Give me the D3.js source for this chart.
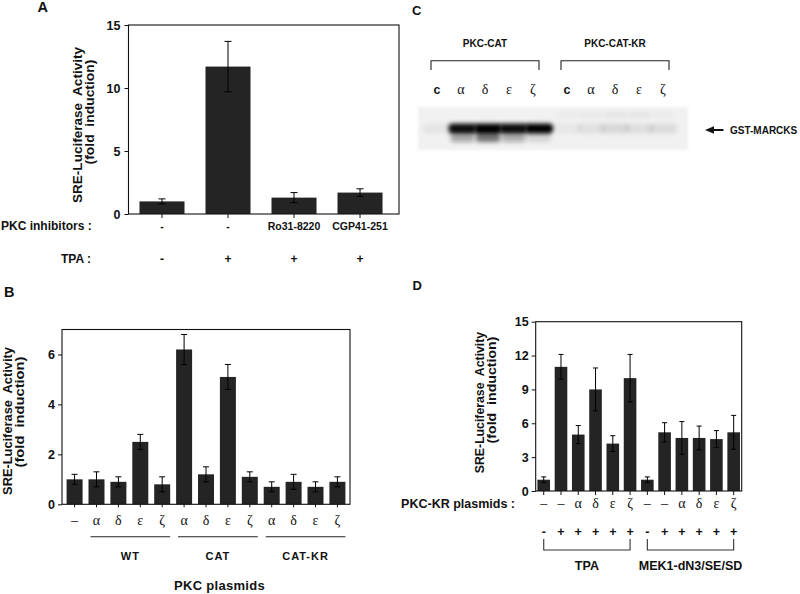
<!DOCTYPE html>
<html>
<head>
<meta charset="utf-8">
<script src="https://cdn.jsdelivr.net/npm/d3@7"></script>
<style>
  html, body { margin: 0; padding: 0; background: #fff; }
  svg text { font-family: "Liberation Sans", Arial, sans-serif; font-weight: bold; fill: #111; }
  svg text.greek { font-family: "Liberation Serif", "Times New Roman", serif; font-weight: normal; }
</style>
</head>
<body>
<svg id="chart" width="800" height="594"></svg>
<script>
// ---------------- DATA ----------------
// Panel A
const inhibitorsA = ["-", "-", "Ro31-8220", "CGP41-251"];
const tpaA = ["-", "+", "+", "+"];
const valuesA = [1.0, 11.7, 1.3, 1.7];
const errorsA = [0.2, 2.0, 0.4, 0.3];
const ticksA = [0, 5, 10, 15];

// Panel B
const plasmidsB = ["–", "α", "δ", "ε", "ζ", "α", "δ", "ε", "ζ", "α", "δ", "ε", "ζ"];
const valuesB = [1.0, 1.0, 0.9, 2.5, 0.8, 6.2, 1.2, 5.1, 1.1, 0.7, 0.9, 0.7, 0.9];
const errorsB = [0.2, 0.3, 0.2, 0.3, 0.3, 0.6, 0.3, 0.5, 0.2, 0.2, 0.3, 0.2, 0.2];
const ticksB = [0, 2, 4, 6];
const groupNamesB = ["WT", "CAT", "CAT-KR"];
const groupStartB = [1, 5, 9];
const groupEndB = [4, 8, 12];

// Panel C (gel)
const gelGroups = ["PKC-CAT", "PKC-CAT-KR"];
const gelLanes = ["c", "α", "δ", "ε", "ζ"];
const mainBandC = [[0.05, 0.95, 1.0, 0.95, 1.0], [0.04, 0.07, 0.10, 0.08, 0.09]];
const lowerBandC = [[0.0, 0.35, 0.6, 0.32, 0.12], [0.0, 0.0, 0.0, 0.0, 0.0]];
const upperSmearC = [[0.0, 0.0, 0.0, 0.0, 0.0], [0.025, 0.04, 0.05, 0.05, 0.025]];

// Panel D
const plasmidsD = ["–", "–", "α", "δ", "ε", "ζ", "–", "–", "α", "δ", "ε", "ζ"];
const signD = ["-", "+", "+", "+", "+", "+", "-", "+", "+", "+", "+", "+"];
const valuesD = [1.0, 11.0, 5.0, 9.0, 4.2, 10.0, 1.0, 5.2, 4.7, 4.7, 4.6, 5.2];
const errorsD = [0.25, 1.1, 0.8, 1.9, 0.7, 2.1, 0.25, 0.85, 1.45, 1.05, 0.75, 1.5];
const ticksD = [0, 3, 6, 9, 12, 15];
const groupNamesD = ["TPA", "MEK1-dN3/SE/SD"];
const groupStartD = [0, 6];
const groupEndD = [5, 11];

const yTitleLine1 = "SRE-Luciferase\u00a0 Activity";
const yTitleLine2 = "(fold\u00a0 induction)";

// ---------------- DRAWING ----------------
const svg = d3.select("#chart");
const BAR = "#242424";

function panelFrame(g, x0, x1, y, ticks, tickPad) {
  const [yb, yt] = y.range();
  g.append("rect").attr("x", x0).attr("y", yt).attr("width", x1 - x0).attr("height", yb - yt)
    .attr("fill", "none").attr("stroke", "#111").attr("stroke-width", 1.1);
  const ax = g.append("g").attr("transform", `translate(${x0},0)`)
    .call(d3.axisLeft(y).tickValues(ticks).tickFormat(d3.format("d")).tickSize(4).tickPadding(tickPad));
  ax.select(".domain").remove();
  ax.selectAll("line").attr("stroke", "#111");
  ax.selectAll("text").attr("font-size", 12.5).attr("font-family", "Liberation Sans, Arial, sans-serif")
    .attr("font-weight", "bold").attr("fill", "#111");
}

function bars(g, x, y, vals, errs, capW) {
  const idx = d3.range(vals.length);
  g.selectAll(null).data(idx).join("rect")
    .attr("x", i => x(i)).attr("width", x.bandwidth())
    .attr("y", i => y(vals[i])).attr("height", i => y(0) - y(vals[i]))
    .attr("fill", BAR);
  const eg = g.append("g").attr("stroke", "#000").attr("stroke-width", 1);
  idx.forEach(i => {
    const cx = x(i) + x.bandwidth() / 2;
    const hi = y(vals[i] + errs[i]), lo = y(vals[i] - errs[i]);
    eg.append("line").attr("x1", cx).attr("x2", cx).attr("y1", hi).attr("y2", lo);
    eg.append("line").attr("x1", cx - capW/2).attr("x2", cx + capW/2).attr("y1", hi).attr("y2", hi);
    eg.append("line").attr("x1", cx - capW/2).attr("x2", cx + capW/2).attr("y1", lo).attr("y2", lo);
  });
}

function fittedVertical(g, txt, xb, cy, len, fs) {
  const t = g.append("text").attr("text-anchor", "middle").attr("font-size", fs).text(txt);
  const natural = t.node().getComputedTextLength() || len;
  const s = len / natural;
  t.attr("transform", `translate(${xb},${cy}) rotate(-90) scale(${s},1)`);
  return t;
}

function yTitle(g, xb1, cy1, len1, xb2, cy2, len2, fs) {
  fittedVertical(g, yTitleLine1, xb1, cy1, len1, fs);
  fittedVertical(g, yTitleLine2, xb2, cy2, len2, fs);
}

// ---------- Panel A ----------
{
  const g = svg.append("g");
  const x = d3.scaleBand().domain(d3.range(valuesA.length)).range([128.5, 399])
    .paddingInner(0.318).paddingOuter(0.208).align(0.4);
  const y = d3.scaleLinear().domain([0, 15]).range([214, 25]);
  g.append("text").attr("x", 37.5).attr("y", 12).attr("font-size", 14.5).text("A");
  bars(g, x, y, valuesA, errorsA, 7);
  panelFrame(g, 128.5, 399, y, ticksA, 4);
  g.append("g").attr("transform", "translate(0,214)")
    .call(d3.axisBottom(x).tickSize(4).tickFormat(""))
    .call(a => a.select(".domain").remove())
    .selectAll("line").attr("stroke", "#111");
  yTitle(g, 81.5, 125, 156, 94, 112, 105, 13);
  g.append("text").attr("x", 1).attr("y", 229.5).attr("font-size", 12).text("PKC inhibitors :");
  g.append("text").attr("x", 91).attr("y", 262.5).attr("font-size", 12).attr("text-anchor", "end").text("TPA :");
  g.selectAll(null).data(inhibitorsA).join("text")
    .attr("x", (d, i) => x(i) + x.bandwidth()/2).attr("y", 229.5)
    .attr("text-anchor", "middle").attr("font-size", 10.5).text(d => d);
  g.selectAll(null).data(tpaA).join("text")
    .attr("x", (d, i) => x(i) + x.bandwidth()/2).attr("y", 262.5)
    .attr("text-anchor", "middle").attr("font-size", 12).text(d => d);
}

// ---------- Panel B ----------
{
  const g = svg.append("g");
  const x = d3.scaleBand().domain(d3.range(valuesB.length)).range([62, 350])
    .paddingInner(0.27).paddingOuter(0.21);
  const y = d3.scaleLinear().domain([0, 7]).range([504.3, 329.5]);
  g.append("text").attr("x", 4).attr("y", 296.5).attr("font-size", 14.5).text("B");
  bars(g, x, y, valuesB, errorsB, 6);
  panelFrame(g, 62, 350, y, ticksB, 3);
  g.append("g").attr("transform", "translate(0,504.3)")
    .call(d3.axisBottom(x).tickSize(3).tickFormat(""))
    .call(a => a.select(".domain").remove())
    .selectAll("line").attr("stroke", "#111");
  yTitle(g, 11.5, 421, 148, 23.5, 412, 111, 13);
  g.selectAll(null).data(plasmidsB).join("text").attr("class", "greek")
    .attr("x", (d, i) => x(i) + x.bandwidth()/2).attr("y", 524.5)
    .attr("text-anchor", "middle").attr("font-size", 14).text(d => d);
  groupNamesB.forEach((name, k) => {
    const xs = x(groupStartB[k]) + 2, xe = x(groupEndB[k]) + x.bandwidth();
    g.append("line").attr("x1", xs).attr("x2", xe).attr("y1", 536.7).attr("y2", 536.7)
      .attr("stroke", "#222").attr("stroke-width", 1.1);
    g.append("text").attr("x", (xs + xe) / 2).attr("y", 560).attr("text-anchor", "middle")
      .attr("font-size", 11).attr("letter-spacing", 1).text(name);
  });
  g.append("text").attr("x", 219.5).attr("y", 590).attr("text-anchor", "middle")
    .attr("font-size", 13).attr("letter-spacing", 0.3).text("PKC plasmids");
}

// ---------- Panel C ----------
{
  const g = svg.append("g");
  const defs = svg.append("defs");
  defs.append("filter").attr("id", "blur").attr("x", "-30%").attr("y", "-100%").attr("width", "160%").attr("height", "300%")
    .append("feGaussianBlur").attr("stdDeviation", 2.1);
  defs.append("filter").attr("id", "blur2").attr("x", "-10%").attr("y", "-30%").attr("width", "120%").attr("height", "160%")
    .append("feGaussianBlur").attr("stdDeviation", 1.5);
  g.append("text").attr("x", 412).attr("y", 15).attr("font-size", 13).text("C");
  const lanesX = [
    d3.scalePoint().domain(d3.range(gelLanes.length)).range([437, 533]),
    d3.scalePoint().domain(d3.range(gelLanes.length)).range([567, 663])
  ];
  g.append("rect").attr("x", 418).attr("y", 107).attr("width", 270).attr("height", 43)
    .attr("fill", "#f1f1f1").attr("filter", "url(#blur2)");
  gelGroups.forEach((name, k) => {
    const lx = lanesX[k];
    const x0 = lx(0) - 6, x1 = lx(gelLanes.length - 1) + 6;
    g.append("text").attr("x", (x0 + x1) / 2).attr("y", 46.5).attr("text-anchor", "middle")
      .attr("font-size", 10).text(name);
    g.append("path").attr("d", `M${x0},70V60.7H${x1}V70`).attr("fill", "none")
      .attr("stroke", "#222").attr("stroke-width", 1.1);
    gelLanes.forEach((lab, i) => {
      const isC = lab === "c";
      g.append("text").attr("class", isC ? null : "greek")
        .attr("x", lx(i)).attr("y", 93.5).attr("text-anchor", "middle")
        .attr("font-size", isC ? 12.5 : 14).text(lab);
      const cx = lx(i) + (k === 0 ? i * 1.5 : 0);
      const band = g.append("g").attr("filter", "url(#blur)");
      band.append("rect").attr("x", cx - 14).attr("y", 123.5).attr("width", 28).attr("height", 10)
        .attr("rx", 4).attr("fill", "#000").attr("opacity", mainBandC[k][i]);
      band.append("rect").attr("x", cx - 12).attr("y", 133).attr("width", 24).attr("height", 9)
        .attr("rx", 3).attr("fill", "#222").attr("opacity", lowerBandC[k][i]);
      band.append("rect").attr("x", cx - 11).attr("y", 112).attr("width", 22).attr("height", 6)
        .attr("fill", "#000").attr("opacity", upperSmearC[k][i]);
    });
  });
  g.append("line").attr("x1", 711).attr("x2", 723.5).attr("y1", 130).attr("y2", 130)
    .attr("stroke", "#111").attr("stroke-width", 2);
  g.append("path").attr("d", "M705,130L714,126.3L714,133.7Z").attr("fill", "#111");
  g.append("text").attr("x", 730).attr("y", 133.8).attr("font-size", 10).text("GST-MARCKS");
}

// ---------- Panel D ----------
{
  const g = svg.append("g");
  const x = d3.scaleBand().domain(d3.range(valuesD.length)).range([535.7, 741.7])
    .paddingInner(0.27).paddingOuter(0.1);
  const y = d3.scaleLinear().domain([0, 15]).range([491, 321.7]);
  g.append("text").attr("x", 412.5).attr("y", 289.5).attr("font-size", 13).text("D");
  bars(g, x, y, valuesD, errorsD, 5);
  panelFrame(g, 535.7, 741.7, y, ticksD, 3);
  g.append("g").attr("transform", "translate(0,491)")
    .call(d3.axisBottom(x).tickSize(4).tickFormat(""))
    .call(a => a.select(".domain").remove())
    .selectAll("line").attr("stroke", "#111");
  yTitle(g, 483.5, 402.5, 141.6, 495.5, 390, 107, 12.5);
  g.append("text").attr("x", 515).attr("y", 507.5).attr("text-anchor", "end")
    .attr("font-size", 12.5).text("PKC-KR plasmids :");
  g.selectAll(null).data(plasmidsD).join("text").attr("class", "greek")
    .attr("x", (d, i) => x(i) + x.bandwidth()/2).attr("y", 508)
    .attr("text-anchor", "middle").attr("font-size", 14).text(d => d);
  g.selectAll(null).data(signD).join("text")
    .attr("x", (d, i) => x(i) + x.bandwidth()/2).attr("y", 535.5)
    .attr("text-anchor", "middle").attr("font-size", 12.5).text(d => d);
  groupNamesD.forEach((name, k) => {
    const xs = x(groupStartD[k]) + x.bandwidth()/2, xe = x(groupEndD[k]) + x.bandwidth()/2;
    g.append("path").attr("d", `M${xs},539V550H${xe}V539`).attr("fill", "none")
      .attr("stroke", "#333").attr("stroke-width", 1.1);
    g.append("text").attr("x", (xs + xe) / 2).attr("y", 569.5).attr("text-anchor", "middle")
      .attr("font-size", 12.5).text(name);
  });
}
</script>
</body>
</html>
